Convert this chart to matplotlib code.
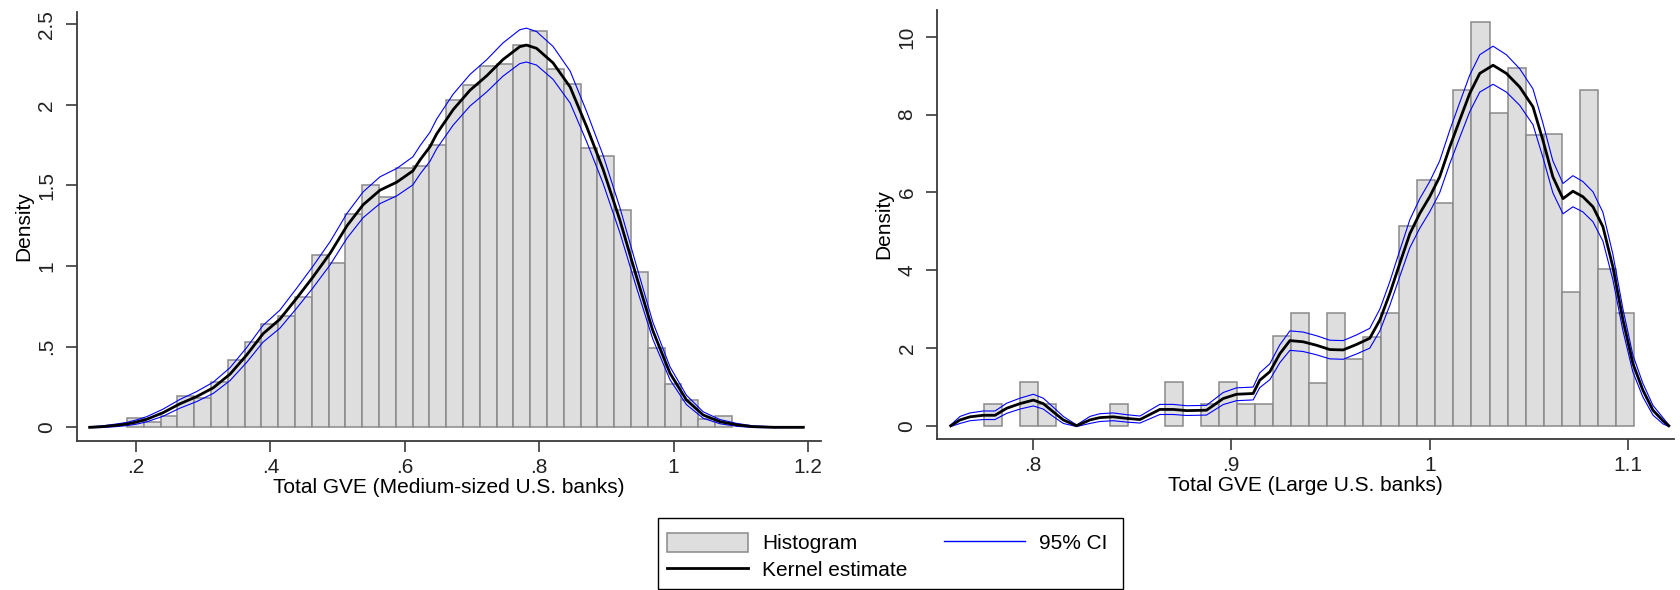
import matplotlib
import numpy as np

matplotlib.use("Agg")
import matplotlib.pyplot as plt
from matplotlib.lines import Line2D
from matplotlib.patches import Patch, Rectangle

plt.rcParams["font.family"] = ["Liberation Sans", "DejaVu Sans"]

# ---- Medium-sized U.S. banks (left panel) ----
MED_BIN_START = 0.1866
MED_BIN_WIDTH = 0.025
med_hist = [0.056, 0.035, 0.072, 0.196, 0.18, 0.28, 0.42, 0.53, 0.64,
            0.69, 0.81, 1.07, 1.02, 1.32, 1.50, 1.43, 1.61, 1.62,
            1.75, 2.03, 2.12, 2.24, 2.25, 2.37, 2.46, 2.22, 2.13,
            1.73, 1.68, 1.35, 0.96, 0.49, 0.27, 0.17, 0.05, 0.07]

med_x = [0.131, 0.150, 0.170, 0.186, 0.200, 0.216, 0.240, 0.265, 0.290, 0.315,
         0.340, 0.365, 0.389, 0.414, 0.439, 0.463, 0.489, 0.514, 0.538, 0.563,
         0.588, 0.612, 0.623, 0.6375, 0.6475, 0.672, 0.697, 0.722, 0.746, 0.771,
         0.781, 0.796, 0.8205, 0.846, 0.871, 0.895, 0.920, 0.945, 0.969, 0.9946,
         1.019, 1.044, 1.069, 1.094, 1.118, 1.150, 1.193]
med_kde = [0.0, 0.004, 0.012, 0.02, 0.032, 0.05, 0.09, 0.145, 0.19, 0.245,
           0.33, 0.45, 0.58, 0.67, 0.80, 0.93, 1.08, 1.25, 1.38, 1.47,
           1.52, 1.59, 1.66, 1.74, 1.82, 1.97, 2.09, 2.18, 2.28, 2.36,
           2.37, 2.35, 2.26, 2.11, 1.86, 1.60, 1.285, 0.93, 0.60, 0.335,
           0.17, 0.076, 0.035, 0.015, 0.004, 0.0, 0.0]
med_ci = [0.003, 0.005, 0.008, 0.01, 0.013, 0.016, 0.022, 0.027, 0.031, 0.035,
          0.04, 0.046, 0.052, 0.056, 0.062, 0.067, 0.072, 0.077, 0.08, 0.083,
          0.085, 0.087, 0.088, 0.09, 0.092, 0.096, 0.098, 0.10, 0.103, 0.105,
          0.105, 0.104, 0.102, 0.099, 0.093, 0.087, 0.078, 0.067, 0.053, 0.04,
          0.029, 0.02, 0.013, 0.009, 0.005, 0.003, 0.002]

# ---- Large U.S. banks (right panel) ----
LARGE_BIN_START = 0.7574
LARGE_BIN_WIDTH = 0.00909
large_hist = [0.0, 0.0, 0.55, 0.0, 1.13, 0.55, 0.0, 0.0, 0.0, 0.55,
              0.0, 0.0, 1.13, 0.0, 0.55, 1.13, 0.55, 0.55, 2.30, 2.89,
              1.11, 2.89, 1.71, 2.29, 2.89, 5.14, 6.32, 5.74, 8.63, 10.37,
              8.03, 9.20, 7.47, 7.49, 3.43, 8.63, 4.02, 2.89]

large_x = [0.7588, 0.7635, 0.7685, 0.7752, 0.7811, 0.787, 0.7937, 0.8004, 0.8054, 0.8104,
           0.8155, 0.8222, 0.8289, 0.8339, 0.8406, 0.8474, 0.8541, 0.8591, 0.8641, 0.8708,
           0.8776, 0.8876, 0.896, 0.9027, 0.9111, 0.9144, 0.9195, 0.9245, 0.9296, 0.9362,
           0.943, 0.9497, 0.9564, 0.9631, 0.9698, 0.9749, 0.9799, 0.9849, 0.99, 0.995,
           1.0, 1.005, 1.0101, 1.0151, 1.0201, 1.0252, 1.0319, 1.0386, 1.0453, 1.052,
           1.057, 1.062, 1.0671, 1.0721, 1.0771, 1.0822, 1.0872, 1.0922, 1.0973, 1.1023,
           1.1073, 1.1124, 1.1174, 1.1204]
large_kde = [0.0, 0.15, 0.23, 0.27, 0.27, 0.45, 0.57, 0.66, 0.57, 0.36,
             0.15, 0.0, 0.15, 0.21, 0.23, 0.19, 0.16, 0.29, 0.42, 0.42,
             0.39, 0.40, 0.70, 0.81, 0.83, 1.17, 1.39, 1.85, 2.19, 2.16,
             2.07, 1.96, 1.95, 2.09, 2.25, 2.72, 3.40, 4.17, 4.94, 5.46,
             5.89, 6.40, 7.17, 7.86, 8.54, 9.06, 9.27, 9.06, 8.71, 8.20,
             7.34, 6.40, 5.84, 6.03, 5.89, 5.63, 5.12, 4.09, 2.72, 1.60,
             0.92, 0.40, 0.13, 0.0]
large_ci = [0.02, 0.09, 0.10, 0.11, 0.11, 0.13, 0.14, 0.15, 0.14, 0.12,
            0.09, 0.02, 0.09, 0.10, 0.10, 0.095, 0.09, 0.11, 0.13, 0.13,
            0.125, 0.125, 0.155, 0.165, 0.165, 0.19, 0.205, 0.23, 0.25, 0.25,
            0.245, 0.24, 0.24, 0.245, 0.255, 0.28, 0.305, 0.335, 0.36, 0.38,
            0.39, 0.41, 0.43, 0.45, 0.47, 0.48, 0.49, 0.48, 0.47, 0.46,
            0.44, 0.41, 0.39, 0.40, 0.39, 0.385, 0.37, 0.33, 0.28, 0.22,
            0.175, 0.125, 0.08, 0.02]

HIST_FILL = "#dedede"
HIST_EDGE = "#8a8a8a"
AXIS_COLOR = "#3a3a3a"
FS = 15

W, H = 1680, 590  # output size in pixels at dpi=100


def draw_panel(ax, bin_start, bin_width, heights, x, kde, ci, xlim, ylim,
               xticks, xticklabels, yticks, yticklabels, xlabel):
    heights = np.asarray(heights)
    edges = bin_start + bin_width * np.arange(len(heights))
    keep = heights > 0  # empty bins are not drawn at all in the original
    ax.bar(edges[keep], heights[keep], width=bin_width, align="edge",
           color=HIST_FILL, edgecolor=HIST_EDGE, linewidth=1.1, zorder=1)

    x, kde, ci = np.asarray(x), np.asarray(kde), np.asarray(ci)
    ax.plot(x, kde + ci, color="blue", linewidth=0.8, zorder=2)
    ax.plot(x, kde - ci, color="blue", linewidth=0.8, zorder=2)
    ax.plot(x, kde, color="black", linewidth=2.0, zorder=3)

    ax.set_xlim(*xlim)
    ax.set_ylim(*ylim)
    ax.set_xticks(xticks, xticklabels)
    ax.set_yticks(yticks, yticklabels)
    for lab in ax.get_yticklabels():
        lab.set_rotation(90)
        lab.set_va("center")
    ax.set_xlabel(xlabel, fontsize=FS, labelpad=1)
    ax.set_ylabel("Density", fontsize=FS, labelpad=3)

    for side in ("top", "right"):
        ax.spines[side].set_visible(False)
    for side in ("left", "bottom"):
        ax.spines[side].set_color(AXIS_COLOR)
        ax.spines[side].set_linewidth(1.3)
    ax.tick_params(direction="out", length=8, width=1.2, color=AXIS_COLOR,
                   labelsize=FS, labelcolor="#222222")
    ax.tick_params(axis="y", pad=7)
    ax.tick_params(axis="x", pad=4)


fig = plt.figure(figsize=(W / 100, H / 100), dpi=100)

# axes boxes measured in pixels: (left, top, right, bottom)
ax_l = fig.add_axes([77 / W, 1 - 441 / H, (821 - 77) / W, (441 - 11.7) / H])
ax_r = fig.add_axes([937.4 / W, 1 - 439 / H, (1674 - 937.4) / W, (439 - 10) / H])

draw_panel(ax_l, MED_BIN_START, MED_BIN_WIDTH, med_hist, med_x, med_kde, med_ci,
           xlim=(0.1122, 1.2193), ylim=(-0.085, 2.577),
           xticks=[0.2, 0.4, 0.6, 0.8, 1.0, 1.2],
           xticklabels=[".2", ".4", ".6", ".8", "1", "1.2"],
           yticks=[0, 0.5, 1, 1.5, 2, 2.5],
           yticklabels=["0", ".5", "1", "1.5", "2", "2.5"],
           xlabel="Total GVE (Medium-sized U.S. banks)")

draw_panel(ax_r, LARGE_BIN_START, LARGE_BIN_WIDTH, large_hist, large_x, large_kde, large_ci,
           xlim=(0.7521, 1.1230), ylim=(-0.34, 10.69),
           xticks=[0.8, 0.9, 1.0, 1.1],
           xticklabels=[".8", ".9", "1", "1.1"],
           yticks=[0, 2, 4, 6, 8, 10],
           yticklabels=["0", "2", "4", "6", "8", "10"],
           xlabel="Total GVE (Large U.S. banks)")

# legend box drawn separately so the padding can match the original exactly
fig.patches.append(Rectangle((658 / W, 1 - 589 / H), (1123 - 658) / W, (589 - 518) / H,
                             transform=fig.transFigure, facecolor="white",
                             edgecolor="black", linewidth=1.0, zorder=0))

handles = [
    Patch(facecolor=HIST_FILL, edgecolor=HIST_EDGE, linewidth=1.1),
    Line2D([], [], color="black", linewidth=2.0),
    Line2D([], [], color="blue", linewidth=1.0),
]
labels = ["Histogram", "Kernel estimate", "95% CI"]
leg = fig.legend(handles, labels, ncol=2, loc="upper left",
                 bbox_to_anchor=(667 / W, 1 - 533 / H), borderaxespad=0,
                 fontsize=FS, frameon=False, handlelength=3.9, handleheight=1.0,
                 handletextpad=0.67, columnspacing=1.75, labelspacing=0.3,
                 borderpad=0)

fig.savefig("out.png", dpi=100)
